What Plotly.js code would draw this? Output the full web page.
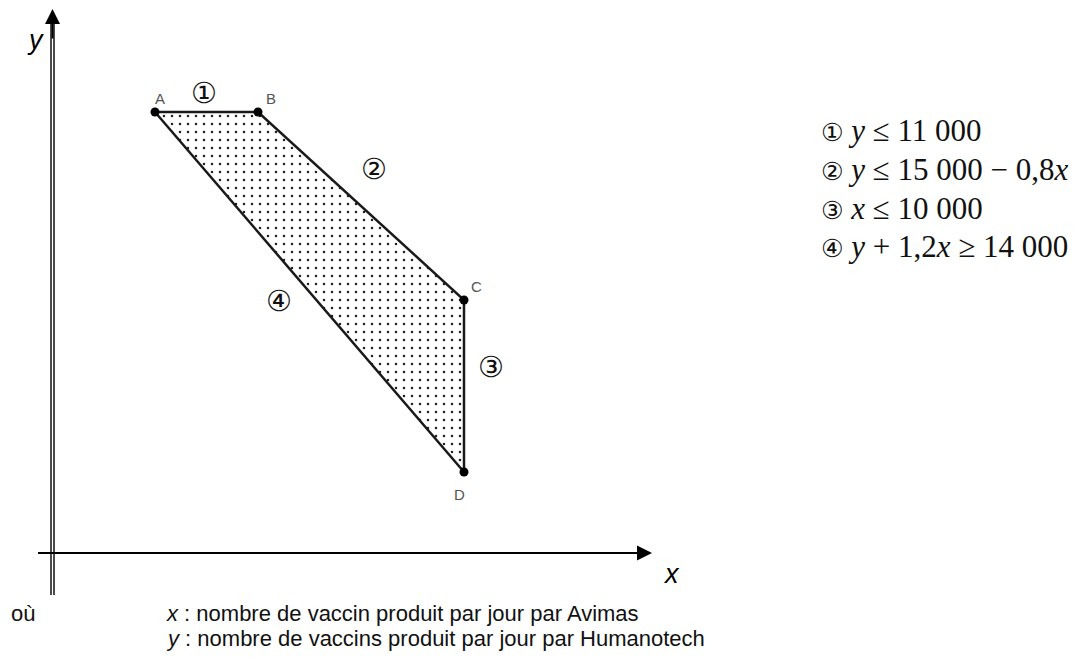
<!DOCTYPE html>
<html>
<head>
<meta charset="utf-8">
<script src="https://cdn.plot.ly/plotly-3.0.1.min.js"></script>
<style>html,body{margin:0;padding:0;background:#fff;}#chart{width:1089px;height:662px;}</style>
</head>
<body>
<div id="chart"></div>
<script>
// Vertices of the feasible region (schematic values)
const vertexLabels = ["A", "B", "C", "D"];
const vertexX = [2500, 5000, 10000, 10000];
const vertexY = [11000, 11000, 6300, 2000];
const constraintMarks = ["①", "②", "③", "④"];
const constraints = [
  "<i>y</i> ≤ 11 000",
  "<i>y</i> ≤ 15 000 − 0,8<i>x</i>",
  "<i>x</i> ≤ 10 000",
  "<i>y</i> + 1,2<i>x</i> ≥ 14 000"
];
const legendLines = [
  "<i>x</i> : nombre de vaccin produit par jour par Avimas",
  "<i>y</i> : nombre de vaccins produit par jour par Humanotech"
];

const W = 1089, H = 662;
const px = v => v / W;
const py = v => 1 - v / H;

const polyX = vertexX.concat([vertexX[0]]);
const polyY = vertexY.concat([vertexY[0]]);

const traces = [
  {
    x: polyX, y: polyY, type: "scatter", mode: "lines",
    fill: "toself", fillcolor: "white",
    fillpattern: {shape: ".", size: 8, solidity: 0.08, fgcolor: "#222", bgcolor: "white"},
    line: {color: "#1a1a1a", width: 2.5}, hoverinfo: "skip", showlegend: false
  },
  {
    x: vertexX, y: vertexY, type: "scatter", mode: "markers",
    marker: {color: "#000", size: 9}, showlegend: false, hoverinfo: "skip"
  }
];

const annotations = [];
function txt(x, y, text, font, xanchor) {
  annotations.push({x: px(x), y: py(y), xref: "paper", yref: "paper", text: text, showarrow: false,
    xanchor: xanchor || "center", yanchor: "middle", font: font});
}

const labelShift = [[5, 14], [13, 14], [12, 14], [-5, -22]];
vertexLabels.forEach((t, i) => {
  annotations.push({x: vertexX[i], y: vertexY[i], xref: "x", yref: "y", text: t, showarrow: false,
    xanchor: "center", yanchor: "middle",
    xshift: labelShift[i][0], yshift: labelShift[i][1],
    font: {family: "Liberation Sans, Arial", size: 15, color: "#555"}});
});

// circled numbers near edges
const circled = [[204, 93], [374, 169], [491, 367], [279, 301]];
circled.forEach((c, i) => txt(c[0], c[1], constraintMarks[i], {family: "DejaVu Sans", size: 29, color: "#111"}));

// constraints list
constraints.forEach((t, i) => txt(819, 131 + i * 38.5,
  '<span style="font-family:DejaVu Sans;font-size:25px">' + constraintMarks[i] + '</span> ' + t,
  {family: "Liberation Serif, DejaVu Serif", size: 31, color: "#111"}, "left"));

// axes
const shapes = [
  {type: "line", xref: "paper", yref: "paper", x0: px(51), x1: px(51), y0: py(595), y1: py(24), line: {color: "#111", width: 1.5}},
  {type: "line", xref: "paper", yref: "paper", x0: px(54), x1: px(54), y0: py(595), y1: py(24), line: {color: "#111", width: 1.5}},
  {type: "line", xref: "paper", yref: "paper", x0: px(38), x1: px(640), y0: py(553), y1: py(553), line: {color: "#000", width: 2}}
];
annotations.push({x: px(652), y: py(553), ax: px(620), ay: py(553), xref: "paper", yref: "paper",
  axref: "paper", ayref: "paper", showarrow: true, arrowhead: 2, arrowsize: 1.5, arrowwidth: 2, arrowcolor: "#000", text: ""});
annotations.push({x: px(52.5), y: py(9), ax: px(52.5), ay: py(40), xref: "paper", yref: "paper",
  axref: "paper", ayref: "paper", showarrow: true, arrowhead: 2, arrowsize: 1.5, arrowwidth: 2, arrowcolor: "#000", text: ""});

// axis names
txt(35, 40, "<i>y</i>", {family: "Liberation Sans, Arial", size: 27, color: "#000"});
txt(671, 574, "<i>x</i>", {family: "Liberation Sans, Arial", size: 27, color: "#000"});

// bottom text
txt(9, 613, "où", {family: "Liberation Sans, Arial", size: 22, color: "#111"}, "left");
legendLines.forEach((t, i) => txt(164, 613 + i * 25, t, {family: "Liberation Sans, Arial", size: 22, color: "#111"}, "left"));

const layout = {
  width: W, height: H, margin: {l: 0, r: 0, t: 0, b: 0},
  paper_bgcolor: "white", plot_bgcolor: "white",
  xaxis: {range: [-1262, 25170], visible: false, fixedrange: true},
  yaxis: {range: [-2750, 13800], visible: false, fixedrange: true},
  showlegend: false, annotations: annotations, shapes: shapes
};
Plotly.newPlot("chart", traces, layout, {displayModeBar: false, staticPlot: true});
</script>
</body>
</html>
